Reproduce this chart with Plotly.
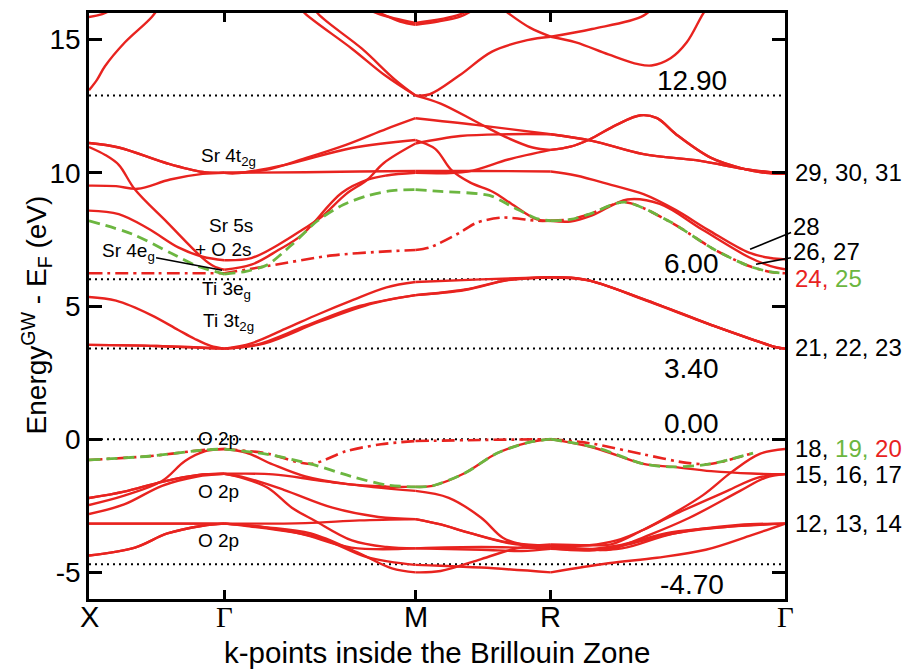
import plotly.graph_objects as go

RED = "#e8231f"
GREEN = "#6cb640"
FONT = "Liberation Sans, Arial, Helvetica, sans-serif"

# High-symmetry points along X–Γ–M–R–Γ (path length in units of 2π/a)
K_X, K_G, K_M, K_R, K_G2 = 0.0, 0.5, 1.2071, 1.7071, 2.5731
kpoint_positions = [K_X, K_G, K_M, K_R, K_G2]
kpoint_labels = ["X", "Γ", "M", "R", "Γ"]

# Reference energy levels (eV)
levels = [12.90, 6.00, 3.40, 0.00, -4.70]
level_label_above = [True, True, False, True, False]

# ---------------- valence O 2p manifold, solid bands (k, E) ----------------
o2p_bands = [
    [(0, -2.47), (0.13, -2.12), (0.27, -1.57), (0.355, -0.82), (0.43, -0.45), (0.5, -0.37),
     (0.58, -0.5), (0.68, -0.95), (0.8, -1.4), (0.95, -1.68), (1.1, -1.78), (1.2071, -1.79),
     (1.27, -1.75), (1.39, -1.27), (1.51, -0.52), (1.63, -0.11), (1.7071, 0.0),
     (1.87, -0.33), (2.05, -0.93), (2.16, -1.04), (2.3, -1.2), (2.45, -1.29), (2.5731, -1.31)],
    [(0, -2.21), (0.13, -1.97), (0.27, -1.6), (0.4, -1.35), (0.5, -1.3),
     (0.68, -1.32), (0.85, -1.55), (1.05, -1.8), (1.2071, -1.94),
     (1.33, -2.2), (1.45, -2.95), (1.53, -3.7), (1.6, -3.95), (1.7071, -4.0),
     (1.85, -3.98), (1.95, -3.8), (2.05, -3.4), (2.15, -2.85), (2.27, -2.1), (2.38, -1.2),
     (2.48, -0.55), (2.5731, -0.37)],
    [(0, -2.81), (0.13, -2.45), (0.27, -1.75), (0.4, -1.4), (0.5, -1.3),
     (0.58, -1.45), (0.72, -1.9), (0.9, -2.57), (1.07, -2.92), (1.2071, -3.0),
     (1.3, -3.2), (1.4, -3.5), (1.55, -3.9), (1.7071, -4.05),
     (1.85, -4.12), (1.92, -4.15), (2.07, -3.6), (2.22, -2.95), (2.407, -1.94), (2.5, -1.45),
     (2.5731, -1.31)],
    [(0, -2.21), (0.13, -1.97), (0.27, -1.6), (0.4, -1.35), (0.5, -1.3),
     (0.566, -1.45), (0.662, -1.83), (0.75, -2.57), (0.835, -3.06), (0.972, -3.8), (1.1, -4.05),
     (1.2071, -4.1), (1.45, -4.05), (1.7071, -4.1),
     (1.85, -4.18), (1.97, -4.0), (2.16, -3.54), (2.4, -3.25), (2.5731, -3.17)],
    [(0, -3.17), (0.25, -3.17), (0.5, -3.17),
     (0.8, -3.15), (1.0, -3.05), (1.2071, -3.0),
     (1.3, -3.2), (1.4, -3.5), (1.55, -3.88), (1.7071, -4.0),
     (1.8, -4.15), (1.95, -4.0), (2.15, -3.5), (2.35, -3.3), (2.5731, -3.17)],
    [(0, -4.37), (0.17, -4.07), (0.29, -3.54), (0.42, -3.25), (0.5, -3.17),
     (0.577, -3.25), (0.847, -3.69), (1.031, -4.44), (1.2071, -4.72),
     (1.3, -4.75), (1.45, -4.82), (1.7071, -5.0),
     (1.92, -4.66), (2.1, -4.45), (2.28, -4.15), (2.45, -3.6), (2.5731, -3.17)],
    [(0, -3.17), (0.25, -3.17), (0.5, -3.17),
     (0.6, -3.25), (0.78, -3.54), (0.97, -4.07), (1.2071, -4.1),
     (1.45, -4.15), (1.6, -4.2), (1.7071, -4.12),
     (1.8, -4.15), (1.97, -4.1), (2.16, -3.54), (2.4, -3.22), (2.5731, -3.17)],
    [(0, -4.37), (0.17, -4.07), (0.29, -3.54), (0.42, -3.25), (0.5, -3.17),
     (0.65, -3.3), (0.82, -3.54), (1.0, -4.29), (1.12, -4.85), (1.2071, -5.0),
     (1.3, -4.95), (1.45, -4.5), (1.58, -4.1), (1.7071, -3.95),
     (1.85, -3.98), (1.93, -3.95), (2.05, -3.4), (2.17, -2.8), (2.36, -1.94), (2.47, -1.45),
     (2.5731, -1.31)],
]

# band 19 (green dashed) and band 20 (red dash-dot) at the valence-band top
band19 = [(0, -0.78), (0.23, -0.63), (0.42, -0.41), (0.5, -0.37),
          (0.65, -0.55), (0.82, -0.93), (0.97, -1.4), (1.1, -1.72), (1.2071, -1.79),
          (1.27, -1.75), (1.39, -1.27), (1.51, -0.52), (1.63, -0.11), (1.7071, 0.0),
          (1.88, -0.33), (2.05, -0.93), (2.16, -1.04), (2.296, -0.93), (2.455, -0.52)]
band20 = [(0, -0.78), (0.23, -0.63), (0.42, -0.41), (0.5, -0.37),
          (0.65, -0.52), (0.82, -0.93), (0.95, -0.45), (1.08, -0.19), (1.2071, -0.07),
          (1.45, -0.03), (1.7071, 0.0),
          (1.85, -0.15), (2.05, -0.57), (2.21, -0.89), (2.296, -0.93), (2.455, -0.52)]

# ---------------- Ti 3t2g conduction bands (21-23) ----------------
t2g_bands = [
    [(0, 5.34), (0.1, 5.2), (0.23, 4.66), (0.33, 4.1), (0.39, 3.77), (0.45, 3.5), (0.5, 3.4),
     (0.6, 3.6), (0.725, 4.14), (0.85, 4.7), (0.97, 5.2), (1.1, 5.7), (1.2071, 5.9),
     (1.45, 6.0), (1.7071, 6.08),
     (1.83, 6.0), (2.05, 5.26), (2.3, 4.29), (2.45, 3.75), (2.54, 3.45), (2.5731, 3.4)],
    [(0, 3.54), (0.25, 3.5), (0.5, 3.4),
     (0.65, 3.6), (0.85, 4.4), (1.05, 5.1), (1.2071, 5.41),
     (1.39, 5.6), (1.55, 5.97), (1.7071, 6.08),
     (1.83, 6.0), (2.05, 5.26), (2.3, 4.29), (2.45, 3.75), (2.54, 3.45), (2.5731, 3.4)],
    [(0, 3.54), (0.25, 3.5), (0.5, 3.4),
     (0.62, 3.55), (0.8, 4.25), (1.0, 5.0), (1.2071, 5.41),
     (1.39, 5.62), (1.55, 5.98), (1.7071, 6.08),
     (1.85, 5.95), (2.06, 5.2), (2.31, 4.25), (2.46, 3.72), (2.54, 3.45), (2.5731, 3.4)],
]

# band 24 (red dash-dot) and band 25 (green dashed)
band24 = [(0, 6.23), (0.25, 6.23), (0.5, 6.23),
          (0.66, 6.5), (0.9, 6.9), (1.1, 7.05), (1.2071, 7.1),
          (1.26, 7.2), (1.372, 7.76), (1.434, 8.13), (1.53, 8.32), (1.656, 8.2), (1.7071, 8.2),
          (1.78, 8.25), (1.85, 8.45), (1.98, 8.9), (2.15, 8.15), (2.31, 7.13), (2.44, 6.5),
          (2.52, 6.28), (2.5731, 6.23)]
band25 = [(0, 8.2), (0.16, 7.7), (0.3, 7.0), (0.4, 6.5), (0.5, 6.2),
          (0.58, 6.3), (0.66, 6.55), (0.75, 7.3), (0.845, 8.2), (0.94, 8.8), (1.03, 9.14),
          (1.12, 9.33), (1.2071, 9.37),
          (1.3, 9.3), (1.48, 9.15), (1.57, 8.7), (1.66, 8.27), (1.7071, 8.2),
          (1.78, 8.25), (1.85, 8.45), (1.98, 8.9), (2.15, 8.15), (2.31, 7.13), (2.44, 6.5),
          (2.52, 6.28), (2.5731, 6.23)]

# ---------------- upper conduction bands (26 and above), solid ----------------
upper_bands = [
    [(0, 15.85), (0.06, 16.0), (0.12, 16.4)],
    [(0, 13.1), (0.03, 13.5), (0.059, 14.0), (0.133, 14.9), (0.233, 15.86), (0.27, 16.4)],
    [(1.0, 16.4), (1.076, 16.0), (1.15, 15.68), (1.2071, 15.56), (1.29, 15.68), (1.372, 15.86),
     (1.45, 16.3)],
    [(1.0, 16.3), (1.07, 15.97), (1.2071, 15.63), (1.372, 15.95), (1.43, 16.3)],
    [(0.76, 16.4), (0.8, 15.97), (0.972, 14.66), (1.094, 13.66), (1.2071, 12.9),
     (1.26, 12.95), (1.37, 13.66), (1.49, 14.55), (1.62, 14.98), (1.7071, 15.11),
     (1.8, 14.9), (1.92, 14.45), (2.03, 14.08), (2.08, 14.03), (2.15, 14.3), (2.21, 14.9),
     (2.27, 15.97), (2.3, 16.4)],
    [(0.82, 16.4), (0.847, 15.97), (1.009, 14.66), (1.131, 13.5), (1.2071, 12.9),
     (1.3, 12.6), (1.44, 11.87), (1.55, 11.3), (1.64, 10.95), (1.7071, 10.86),
     (1.78, 10.98), (1.85, 11.25), (1.95, 11.8), (2.04, 12.16), (2.1, 12.05), (2.17, 11.45),
     (2.3, 10.56), (2.42, 10.15), (2.5, 10.0), (2.5731, 9.96)],
    [(1.5, 16.4), (1.556, 15.95), (1.63, 15.45), (1.7071, 15.11),
     (1.86, 15.4), (2.05, 15.9), (2.1, 16.4)],
    # Sr 4t2g
    [(0, 11.12), (0.11, 10.95), (0.29, 10.35), (0.42, 10.03), (0.5, 10.0),
     (0.65, 10.1), (0.8, 10.55), (0.95, 11.05), (1.1, 11.65), (1.2071, 12.05),
     (1.43, 11.8), (1.7071, 11.45),
     (1.86, 11.2), (2.05, 10.7), (2.26, 10.45), (2.42, 10.15), (2.5731, 9.96)],
    [(0, 9.52), (0.1, 9.5), (0.18, 9.4), (0.3, 9.75), (0.42, 9.96), (0.5, 10.0),
     (0.54, 9.98), (0.725, 10.3), (0.972, 10.93), (1.2071, 11.23),
     (1.28, 10.9), (1.34, 10.1), (1.41, 9.63), (1.494, 9.28), (1.56, 8.85), (1.656, 8.25),
     (1.7071, 8.2),
     (1.78, 8.17), (1.86, 8.4), (1.99, 9.0), (2.11, 8.83), (2.27, 7.85), (2.44, 6.83),
     (2.52, 6.5), (2.5731, 6.38)],
    [(0, 11.12), (0.11, 10.95), (0.29, 10.35), (0.42, 10.03), (0.5, 10.0),
     (0.8, 10.02), (1.0, 10.05), (1.2071, 10.07),
     (1.45, 10.07), (1.7071, 10.05),
     (1.8, 9.9), (1.93, 9.55), (2.05, 9.2), (2.17, 8.6), (2.29, 7.85), (2.44, 7.0),
     (2.52, 6.8), (2.5731, 6.75)],
    # Sr 5s + O 2s
    [(0, 8.58), (0.11, 8.45), (0.22, 7.9), (0.33, 7.2), (0.42, 6.85), (0.5, 6.72),
     (0.6, 6.8), (0.7, 7.3), (0.79, 7.87), (0.86, 8.35), (0.95, 9.2), (1.03, 9.75),
     (1.09, 10.37), (1.2071, 11.1),
     (1.372, 11.38), (1.55, 11.45), (1.7071, 11.45),
     (1.86, 11.2), (2.05, 10.7), (2.26, 10.45), (2.42, 10.15), (2.5731, 9.96)],
    # Sr 4eg
    [(0, 10.97), (0.06, 10.67), (0.11, 10.3), (0.17, 9.37), (0.29, 8.13), (0.42, 6.8),
     (0.46, 6.5), (0.5, 6.36),
     (0.6, 6.55), (0.7, 7.1), (0.785, 7.65), (0.935, 9.25), (1.03, 9.74), (1.1, 9.9),
     (1.2071, 10.0),
     (1.4, 10.05), (1.55, 10.5), (1.7071, 10.86),
     (1.78, 10.98), (1.85, 11.25), (1.95, 11.8), (2.04, 12.16), (2.1, 12.05), (2.17, 11.45),
     (2.3, 10.56), (2.42, 10.15), (2.5, 10.0), (2.5731, 9.96)],
]

segments = list(zip(kpoint_positions[:-1], kpoint_positions[1:]))

fig = go.Figure()


def add_band(points, color, dash="solid", width=2.4, smoothing=1.0):
    # one trace per path segment so kinks at the high-symmetry points stay sharp
    for a, b in segments:
        seg = [(k, e) for k, e in points if a - 1e-6 <= k <= b + 1e-6]
        if len(seg) < 2:
            continue
        ks, es = zip(*seg)
        fig.add_trace(go.Scatter(
            x=ks, y=es, mode="lines", hoverinfo="skip", showlegend=False,
            line=dict(color=color, width=width, dash=dash, shape="spline",
                      smoothing=smoothing)))


# dotted reference levels
for lv in levels:
    fig.add_trace(go.Scatter(x=[K_X, K_G2], y=[lv, lv], mode="lines", hoverinfo="skip",
                             showlegend=False,
                             line=dict(color="black", width=2, dash="2px,4px")))

for band in o2p_bands + t2g_bands + upper_bands:
    add_band(band, RED)

DASHDOT = "13px,5px,3px,5px"
DASHED = "11px,6px"
add_band(band20, RED, dash=DASHDOT, width=2.6, smoothing=0.8)
add_band(band19, GREEN, dash=DASHED, width=2.8, smoothing=0.8)
add_band(band24, RED, dash=DASHDOT, width=2.6, smoothing=0.8)
add_band(band25, GREEN, dash=DASHED, width=2.8, smoothing=0.8)

annotations = []

# level values written next to the dotted lines
for lv, above in zip(levels, level_label_above):
    annotations.append(dict(
        x=2.228, y=lv + (0.58 if above else -0.75), xref="x", yref="y",
        text=f"{lv:.2f}", showarrow=False, font=dict(size=28, color="black", family=FONT)))


def colored(parts):
    return "".join(f"<span style='color:{c}'>{t}</span>" for t, c in parts)


# band indices at the right-hand Γ point
right_labels = [
    ("29, 30, 31", 10.0),
    ("24, 25", 6.04),
    ("21, 22, 23", 3.43),
    ("18, 19, 20", -0.34),
    ("15, 16, 17", -1.34),
    ("12, 13, 14", -3.17),
]
for text, e in right_labels:
    if text == "24, 25":
        text = colored([("24, ", RED), ("25", GREEN)])
    elif text == "18, 19, 20":
        text = colored([("18, ", "black"), ("19, ", GREEN), ("20", RED)])
    annotations.append(dict(x=1.0115, y=e, xref="paper", yref="y", text=text,
                            xanchor="left", yanchor="middle", showarrow=False,
                            font=dict(size=24, color="black", family=FONT)))

# labels with leader lines
leader_labels = [
    ("28", 2.444, 7.13, 56, -23, 24),
    ("26, 27", 2.466, 6.57, 70, -13, 24),
    ("Sr 4e<sub>g</sub>", 0.492, 6.34, -94, -18, 19),
]
for text, k, e, ax, ay, size in leader_labels:
    annotations.append(dict(x=k, y=e, xref="x", yref="y", text=text, showarrow=True,
                            arrowhead=0, arrowwidth=1.6, arrowcolor="black",
                            ax=ax, ay=ay, standoff=0, startstandoff=0,
                            font=dict(size=size, color="black", family=FONT)))

# orbital character labels
orbital_labels = [
    ("Sr 4t<sub>2g</sub>", 0.515, 10.6),
    ("Sr 5s", 0.525, 8.04),
    ("+ O 2s", 0.497, 7.12),
    ("Ti 3e<sub>g</sub>", 0.51, 5.6),
    ("Ti 3t<sub>2g</sub>", 0.515, 4.4),
    ("O 2p", 0.48, 0.02),
    ("O 2p", 0.48, -1.95),
    ("O 2p", 0.48, -3.8),
]
for text, k, e in orbital_labels:
    annotations.append(dict(x=k, y=e, xref="x", yref="y", text=text, showarrow=False,
                            font=dict(size=19, color="black", family=FONT)))

# k-point labels under the axis (Γ in a serif face)
for k, lab in zip(kpoint_positions, kpoint_labels):
    fam = "Liberation Serif, DejaVu Serif, serif" if lab == "Γ" else FONT
    annotations.append(dict(x=k, y=-0.0306, xref="x", yref="paper", text=lab,
                            xanchor="center", yanchor="middle", showarrow=False,
                            font=dict(size=29, color="black", family=fam)))

# axis titles
annotations.append(dict(x=-0.0747, y=0.484, xref="paper", yref="paper", textangle=-90,
                        xanchor="center", yanchor="middle",
                        text="Energy<sup>GW</sup> - E<sub>F</sub> (eV)", showarrow=False,
                        font=dict(size=28, color="black", family=FONT)))
annotations.append(dict(x=0.5, y=-0.0917, xref="paper", yref="paper",
                        xanchor="center", yanchor="middle",
                        text="k-points inside the Brillouin Zone", showarrow=False,
                        font=dict(size=29.5, color="black", family=FONT)))

fig.update_layout(
    width=907, height=669,
    margin=dict(l=89, r=122, t=10, b=70),
    plot_bgcolor="white", paper_bgcolor="white",
    font=dict(family=FONT, color="black"),
    annotations=annotations,
    xaxis=dict(range=[K_X, K_G2], tickvals=kpoint_positions, showticklabels=False,
               ticks="inside", ticklen=9, tickwidth=2.5, tickcolor="black",
               showline=True, linewidth=2.5, linecolor="black", mirror="ticks",
               showgrid=False, zeroline=False),
    yaxis=dict(range=[-6, 16], tickvals=[-5, 0, 5, 10, 15],
               ticktext=["-5", "0", "5", "10", "15"],
               ticks="inside", ticklen=13, tickwidth=2.5, tickcolor="black",
               showline=True, linewidth=2.5, linecolor="black", mirror="ticks",
               showgrid=False, zeroline=False, tickfont=dict(size=28)),
)

fig.write_html("out.html")
